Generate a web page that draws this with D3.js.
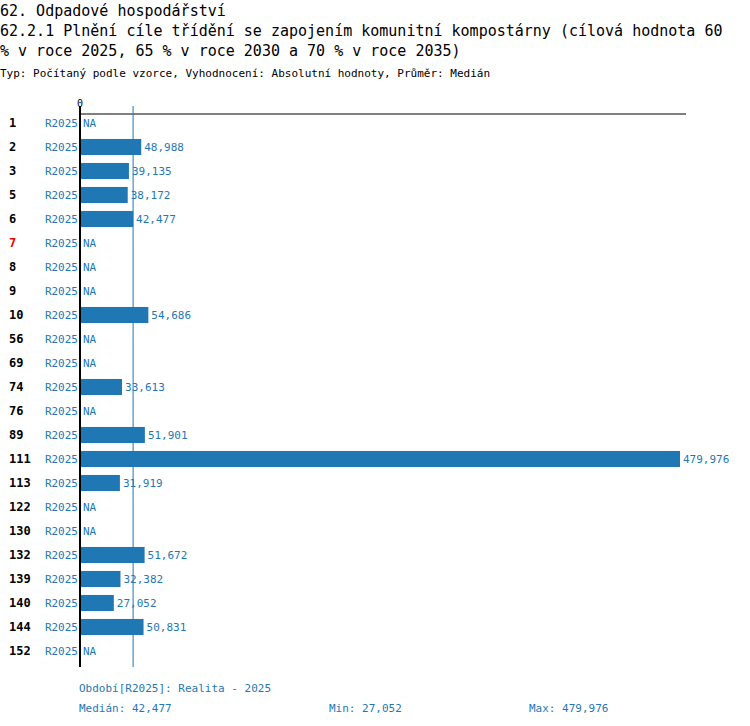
<!DOCTYPE html>
<html><head><meta charset="utf-8">
<script src="https://cdn.jsdelivr.net/npm/d3@7"></script>
<style>body{margin:0;background:#fff}text{font-family:"DejaVu Sans Mono",monospace}</style>
</head><body><div class="container"></div>
<script>
const ids = ['1','2','3','5','6','7','8','9','10','56','69','74','76','89','111','113','122','130','132','139','140','144','152'];
const values = [null,48988,39135,38172,42477,null,null,null,54686,null,null,33613,null,51901,479976,31919,null,null,51672,32382,27052,50831,null];
const redIds = ['7'];
const period = 'R2025';
const median = 42477, minV = 27052, maxV = 479976;

let svg = d3.select('.container').append('svg').attr('width', 750).attr('height', 726);
const blue = '#1f77b4';
const fmt = d3.format(',');

svg.append('text').attr('x', 0).attr('y', 16).attr('font-size', 15).text('62. Odpadové hospodářství');
svg.append('text').attr('x', 0).attr('y', 36).attr('font-size', 15).text('62.2.1 Plnění cíle třídění se zapojením komunitní kompostárny (cílová hodnota 60');
svg.append('text').attr('x', 0).attr('y', 56).attr('font-size', 15).text('% v roce 2025, 65 % v roce 2030 a 70 % v roce 2035)');
svg.append('text').attr('x', 0).attr('y', 77).attr('font-size', 11).text('Typ: Počítaný podle vzorce, Vyhodnocení: Absolutní hodnoty, Průměr: Medián');

let x = d3.scaleLinear().domain([0, maxV]).range([80, 680]);
let y = d3.scaleBand().domain(ids).range([111, 663]).paddingInner(0.33).paddingOuter(0.165);

svg.append('line').attr('x1', 80).attr('x2', 686).attr('y1', 114).attr('y2', 114).attr('stroke', '#000');
svg.append('text').attr('x', 80).attr('y', 107).attr('font-size', 10).attr('text-anchor', 'middle').text('0');
svg.append('line').attr('x1', x(median)).attr('x2', x(median)).attr('y1', 106).attr('y2', 667).attr('stroke', blue);

const rows = svg.selectAll('g.row').data(ids).enter().append('g');
rows.append('text').attr('x', 9).attr('y', d => y(d) + y.bandwidth()/2 + 4)
  .attr('font-size', 12).attr('font-weight', 'bold')
  .attr('fill', d => redIds.includes(d) ? '#e00' : '#000').text(d => d);
rows.append('text').attr('x', 78).attr('y', d => y(d) + y.bandwidth()/2 + 4)
  .attr('font-size', 11).attr('text-anchor', 'end').attr('fill', blue).text(period);
rows.filter((d, i) => values[i] != null).append('rect')
  .attr('x', x(0)).attr('y', d => y(d)).attr('height', y.bandwidth())
  .attr('width', d => x(values[ids.indexOf(d)]) - x(0)).attr('fill', blue);
rows.append('text').attr('y', d => y(d) + y.bandwidth()/2 + 4).attr('font-size', 11).attr('fill', blue)
  .attr('x', d => { const v = values[ids.indexOf(d)]; return (v == null ? x(0) : x(v)) + 3; })
  .text(d => { const v = values[ids.indexOf(d)]; return v == null ? 'NA' : fmt(v); });

svg.append('line').attr('x1', 80).attr('x2', 80).attr('y1', 106).attr('y2', 667).attr('stroke', '#000').attr('stroke-width', 2);

svg.append('text').attr('x', 79).attr('y', 692).attr('font-size', 11).attr('fill', blue).text('Období[R2025]: Realita - 2025');
svg.append('text').attr('x', 79).attr('y', 712).attr('font-size', 11).attr('fill', blue).text('Medián: ' + fmt(median));
svg.append('text').attr('x', 329).attr('y', 712).attr('font-size', 11).attr('fill', blue).text('Min: ' + fmt(minV));
svg.append('text').attr('x', 529).attr('y', 712).attr('font-size', 11).attr('fill', blue).text('Max: ' + fmt(maxV));
</script></body></html>
